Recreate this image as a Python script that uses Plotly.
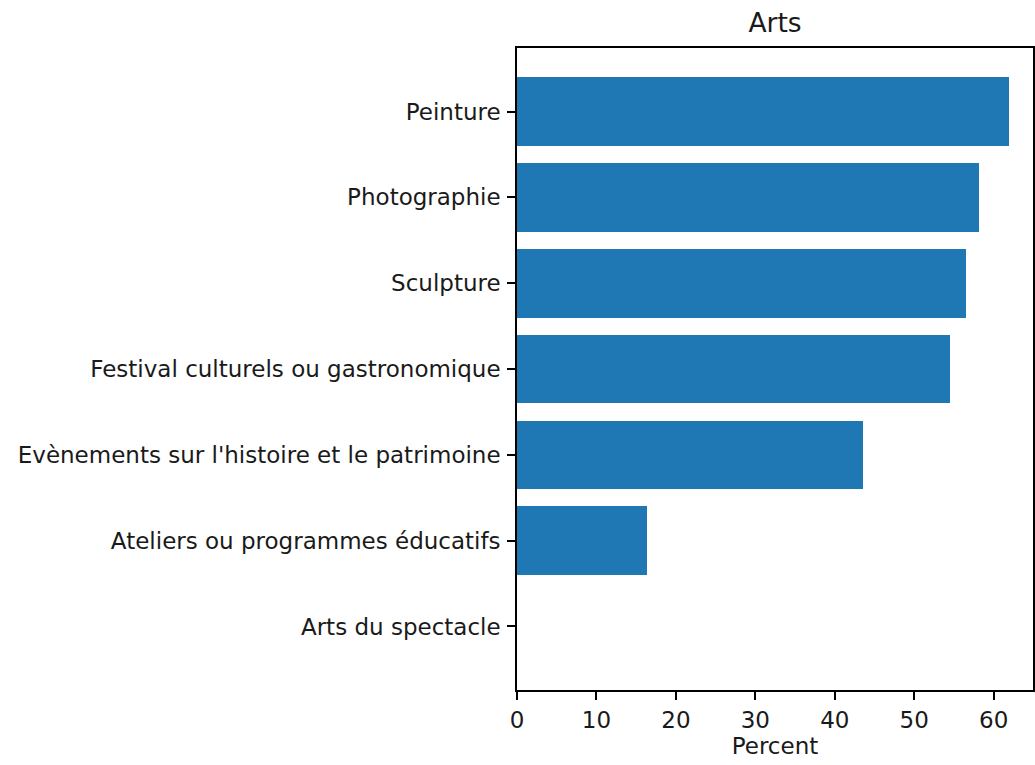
import plotly.graph_objects as go

categories = [
    "Arts du spectacle",
    "Ateliers ou programmes éducatifs",
    "Evènements sur l'histoire et le patrimoine",
    "Festival culturels ou gastronomique",
    "Sculpture",
    "Photographie",
    "Peinture",
]
percent = [0.0, 16.4, 43.6, 54.5, 56.5, 58.2, 61.9]
x_ticks = [0, 10, 20, 30, 40, 50, 60]

FONT = "DejaVu Sans"
TXT = "#1a1a1a"

fig = go.Figure(
    go.Bar(
        x=percent,
        y=categories,
        orientation="h",
        width=0.8,
        marker=dict(color="#1f77b4", line=dict(width=0)),
    )
)

fig.update_layout(
    width=1035,
    height=765,
    margin=dict(l=517, r=2, t=48, b=75, autoexpand=False),
    paper_bgcolor="white",
    plot_bgcolor="white",
    font=dict(family=FONT, size=23, color=TXT),
    showlegend=False,
    bargap=0,
    title=dict(
        text="Arts",
        font=dict(family=FONT, size=26.5, color=TXT),
        x=0.5 * (517 + 1033) / 1035,
        xanchor="center",
        xref="container",
        y=1 - 23 / 765,
        yanchor="middle",
        yref="container",
    ),
)

fig.update_xaxes(
    range=[0, 64.95],
    tickvals=x_ticks,
    ticks="outside",
    ticklen=8,
    tickwidth=1.6,
    tickcolor="black",
    ticklabelstandoff=1,
    showline=True,
    linecolor="black",
    linewidth=1.6,
    mirror=True,
    showgrid=False,
    zeroline=False,
    title=dict(text="Percent", font=dict(family=FONT, size=23, color=TXT), standoff=2),
)

fig.update_yaxes(
    type="category",
    categoryorder="array",
    categoryarray=categories,
    range=[-0.74, 6.74],
    ticks="outside",
    ticklen=8,
    tickwidth=1.6,
    tickcolor="black",
    ticklabelstandoff=2,
    showline=True,
    linecolor="black",
    linewidth=1.6,
    mirror=True,
    showgrid=False,
    zeroline=False,
)

fig.write_html(
    "out.html",
    config={"displayModeBar": False},
    post_script="document.body.style.margin='0px';document.body.style.overflow='hidden';",
)
